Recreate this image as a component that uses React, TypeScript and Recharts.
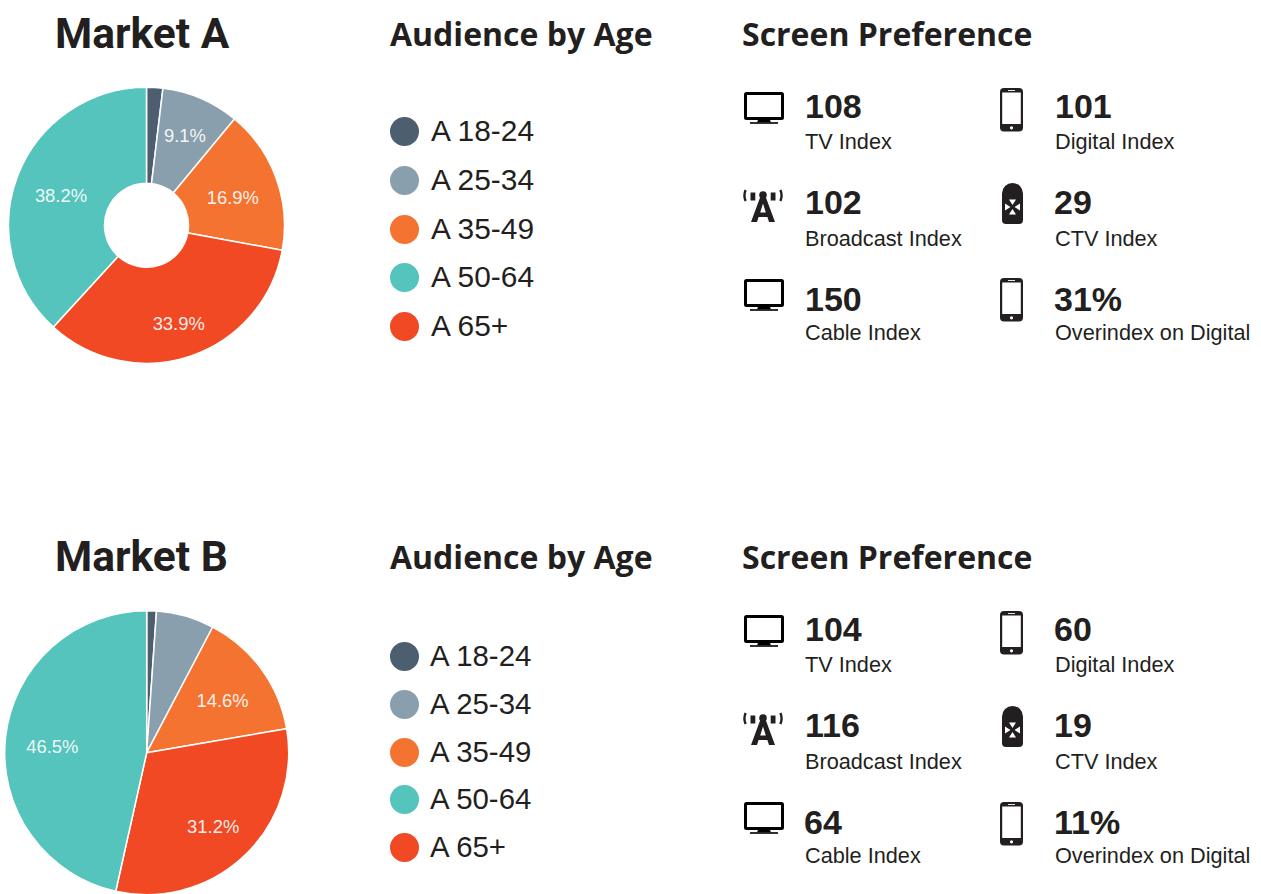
import { PieChart, Pie } from "recharts";

const ageLabels = ["A 18-24", "A 25-34", "A 35-49", "A 50-64", "A 65+"];
const ageColors = ["#4d5e70", "#8a9fae", "#f57331", "#54c4bc", "#f04923"];

// clockwise slice order in the picture has 65+ before 50-64
const sliceOrder = [0, 1, 2, 4, 3];
const marketAShares = [1.9, 9.1, 16.9, 38.2, 33.9];
const marketBShares = [1.1, 6.6, 14.6, 46.5, 31.2];

const statLabels = ["TV Index", "Broadcast Index", "Cable Index", "Digital Index", "CTV Index", "Overindex on Digital"];
const marketAStats = ["108", "102", "150", "101", "29", "31%"];
const marketBStats = ["104", "116", "64", "60", "19", "11%"];

const INK = "#231f20";
const SANS = "'Liberation Sans', Arial, sans-serif";
const OPEN = "'Open Sans', sans-serif";
const LABEL_RADIUS = 95;
const MIN_LABEL_SHARE = 8;

// labels do not sit on one exact radius in the original, small offsets per label
const labelNudge: Record<string, number[]> = {
  "9.1": [1, -2],
  "16.9": [-3, 5],
  "33.9": [2, 8],
  "38.2": [3, 5],
  "14.6": [-1, 4],
  "31.2": [1, 5],
  "46.5": [0, 4],
};

const buildSlices = (shares: number[]) =>
  sliceOrder.map((i) => ({ name: ageLabels[i], value: shares[i], fill: ageColors[i] }));

function renderLabel(props: any) {
  const { cx, cy, midAngle, value } = props;
  if (value < MIN_LABEL_SHARE) return null;
  const rad = (-midAngle * Math.PI) / 180;
  const text = value.toFixed(1);
  const [dx, dy] = labelNudge[text] || [0, 0];
  return (
    <text
      x={cx + LABEL_RADIUS * Math.cos(rad) + dx}
      y={cy + LABEL_RADIUS * Math.sin(rad) + dy}
      fill="#fff"
      fillOpacity={0.92}
      textAnchor="middle"
      dominantBaseline="central"
      fontFamily={SANS}
      fontSize={18.4}
    >
      {text}%
    </text>
  );
}

function Txt({ x, y, size, font, weight, children }: any) {
  return (
    <div
      style={{
        position: "absolute",
        left: x,
        top: y,
        lineHeight: 0,
        whiteSpace: "nowrap",
        fontFamily: font,
        fontSize: size,
        fontWeight: weight,
        color: INK,
      }}
    >
      {children}
    </div>
  );
}

function TvIcon({ x, y }: any) {
  return (
    <svg style={{ position: "absolute", left: x, top: y }} width={40} height={32}>
      <rect x={1.5} y={1.5} width={37} height={25} rx={1} fill="#fff" stroke="#000" strokeWidth={3} />
      <path d="M14 28h12l1 2.2H13z" fill="#000" />
      <rect x={6} y={30.2} width={28} height={1.6} fill="#000" />
    </svg>
  );
}

function PhoneIcon({ x, y }: any) {
  return (
    <svg style={{ position: "absolute", left: x, top: y }} width={23} height={44}>
      <rect x={0} y={0} width={23} height={43.5} rx={4} fill={INK} />
      <rect x={2.2} y={4.5} width={18.6} height={31.5} fill="#fff" />
      <circle cx={11.5} cy={39.8} r={1.6} fill="#fff" />
      <rect x={8} y={2} width={7} height={0.9} fill="#fff" />
    </svg>
  );
}

function CtvIcon({ x, y }: any) {
  return (
    <svg style={{ position: "absolute", left: x, top: y }} width={21} height={42}>
      <path d="M0 10.5a10.5 10.5 0 0 1 21 0V37a4 4 0 0 1-4 4H4a4 4 0 0 1-4-4z" fill={INK} />
      <path d="M7 16.5h7l-3.5 5.5zM7 31.5h7l-3.5-5.5zM3 20.5v7l5.5-3.5zM18 20.5v7l-5.5-3.5z" fill="#fff" />
    </svg>
  );
}

function TowerIcon({ x, y }: any) {
  return (
    <svg style={{ position: "absolute", left: x, top: y }} width={40} height={35}>
      <circle cx={20} cy={7} r={3.8} fill={INK} />
      <path d="M18 7h4l10 27h-6l-1.6-5h-8.8L14 34H8zM17.2 24.5h5.6L20 15.5z" fill={INK} fillRule="evenodd" />
      <rect x={7.5} y={4.5} width={4.8} height={8} fill={INK} />
      <rect x={27.7} y={4.5} width={4.8} height={8} fill={INK} />
      <path d="M2.6 2Q0.2 7.5 2.6 13M37.4 2Q39.8 7.5 37.4 13" fill="none" stroke={INK} strokeWidth={2.4} />
    </svg>
  );
}

function Market({ title, titleY, headY, textX, textSize, legendRows, stats, numRows, labelRows, leftIconYs, rightIconYs, numXs }: any) {
  return (
    <>
      <Txt x={55} y={titleY} size={42.5} font="Roboto, sans-serif" weight={700}>{title}</Txt>
      <Txt x={390} y={headY} size={32} font={OPEN} weight={700}>Audience by Age</Txt>
      <Txt x={742} y={headY} size={32} font={OPEN} weight={700}>Screen Preference</Txt>

      {ageLabels.map((label, i) => (
        <div key={label}>
          <div
            style={{
              position: "absolute",
              left: 390,
              top: legendRows[i] - 14.5,
              width: 29,
              height: 29,
              borderRadius: "50%",
              background: ageColors[i],
            }}
          />
          <Txt x={textX} y={legendRows[i]} size={textSize} font={SANS}>{label}</Txt>
        </div>
      ))}

      <TvIcon x={743.5} y={leftIconYs[0]} />
      <TowerIcon x={743} y={leftIconYs[1]} />
      <TvIcon x={743.5} y={leftIconYs[2]} />
      <PhoneIcon x={1000} y={rightIconYs[0]} />
      <CtvIcon x={1002} y={rightIconYs[1]} />
      <PhoneIcon x={1000} y={rightIconYs[2]} />

      {stats.map((value: string, i: number) => {
        const row = i % 3;
        return (
          <div key={statLabels[i]}>
            <Txt x={numXs[i]} y={numRows[row]} size={34} font={SANS} weight={700}>{value}</Txt>
            <Txt x={i < 3 ? 805 : 1055} y={labelRows[row]} size={21.7} font={SANS}>{statLabels[i]}</Txt>
          </div>
        );
      })}
    </>
  );
}

export default function App() {
  return (
    <div style={{ position: "absolute", left: 0, top: 0, width: 1261, height: 894, overflow: "hidden", background: "#fff" }}>
      <PieChart width={1261} height={894} margin={{ top: 0, right: 0, bottom: 0, left: 0 }}>
        <Pie
          data={buildSlices(marketAShares)}
          dataKey="value"
          nameKey="name"
          cx={146.5}
          cy={225.3}
          innerRadius={42}
          outerRadius={138}
          startAngle={90}
          endAngle={-270}
          stroke="#fff"
          strokeWidth={1.5}
          label={renderLabel}
          labelLine={false}
          isAnimationActive={false}
        />
        <Pie
          data={buildSlices(marketBShares)}
          dataKey="value"
          nameKey="name"
          cx={146.7}
          cy={752.7}
          innerRadius={0}
          outerRadius={142}
          startAngle={90}
          endAngle={-270}
          stroke="#fff"
          strokeWidth={1.5}
          label={renderLabel}
          labelLine={false}
          isAnimationActive={false}
        />
      </PieChart>

      <Market
        title="Market A"
        titleY={33.5}
        headY={33.5}
        textX={431}
        textSize={29.9}
        legendRows={[131, 180, 229, 277, 326]}
        stats={marketAStats}
        numRows={[106, 202, 299]}
        labelRows={[142, 239, 333]}
        leftIconYs={[92, 188, 279]}
        rightIconYs={[88, 183, 278]}
        numXs={[805, 805, 805, 1055, 1054, 1054]}
      />
      <Market
        title="Market B"
        titleY={556.5}
        headY={556.5}
        textX={430}
        textSize={29.4}
        legendRows={[656, 704, 752, 799, 847]}
        stats={marketBStats}
        numRows={[629, 725, 822]}
        labelRows={[665, 762, 856]}
        leftIconYs={[615, 711, 802]}
        rightIconYs={[611, 706, 802]}
        numXs={[805, 805, 804, 1054, 1054, 1054]}
      />
    </div>
  );
}
